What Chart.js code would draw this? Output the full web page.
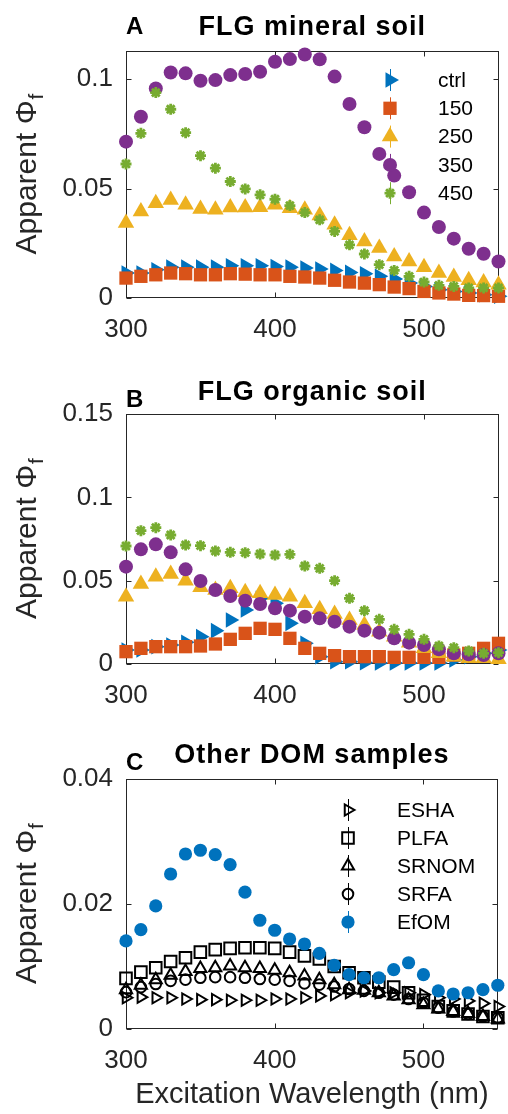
<!DOCTYPE html>
<html><head><meta charset="utf-8">
<script src="https://cdn.jsdelivr.net/npm/chart.js@4.4.1/dist/chart.umd.min.js"></script>
<style>
html,body{margin:0;padding:0;background:#fff;}
#wrap{position:relative;width:508px;height:1114px;overflow:hidden;background:#fff;}
canvas{position:absolute;left:0;}
</style></head><body>
<div id="wrap">
<canvas id="cA" width="508" height="350" style="top:0px;width:508px;height:350px"></canvas>
<canvas id="cB" width="508" height="370" style="top:350px;width:508px;height:370px"></canvas>
<canvas id="cC" width="508" height="394" style="top:720px;width:508px;height:394px"></canvas>
</div>
<script>
// ---------- data ----------
const wavelengths = [300,310,320,330,340,350,360,370,380,390,400,410,420,430,440,450,460,470,480,490,500,510,520,530,540,550];
const xTicks = [300,400,500];

// Panel A: FLG mineral soil
const labelsA = ['ctrl','150','250','350','450'];
const ctrlA = [0.0114,0.0114,0.0129,0.0141,0.0141,0.0141,0.0141,0.0147,0.0147,0.0147,0.0144,0.0141,0.0137,0.0132,0.0126,0.0117,0.0111,0.0099,0.0087,0.0068,0.0053,0.0038,0.0030,0.0023,0.0015,0.0008];
const s150A = [0.0091,0.0099,0.0106,0.0114,0.0111,0.0106,0.0106,0.0111,0.0109,0.0106,0.0106,0.0099,0.0096,0.0091,0.0081,0.0073,0.0068,0.0061,0.0050,0.0043,0.0030,0.0023,0.0018,0.0012,0.0011,0.0008];
const s250A = [0.0342,0.0395,0.0433,0.0448,0.0426,0.0407,0.0403,0.0413,0.0413,0.0415,0.0426,0.0410,0.0403,0.0377,0.0334,0.0286,0.0258,0.0228,0.0190,0.0167,0.0141,0.0114,0.0096,0.0081,0.0071,0.0061];
const s350A = [0.0714,0.0828,0.0957,0.1030,0.1026,0.0992,0.0995,0.1018,0.1023,0.1033,0.1079,0.1091,0.1112,0.1090,0.1011,0.0886,0.0780,0.0658,0.0559,0.0483,0.0390,0.0324,0.0271,0.0225,0.0202,0.0167];
const s450A = [0.0612,0.0752,0.0938,0.0862,0.0755,0.0650,0.0593,0.0532,0.0498,0.0471,0.0451,0.0422,0.0390,0.0357,0.0304,0.0243,0.0201,0.0152,0.0126,0.0099,0.0073,0.0058,0.0053,0.0046,0.0046,0.0046];
const yTicksA = [0,0.05,0.1];

// Panel B: FLG organic soil
const ctrlB = [0.0084,0.0084,0.0104,0.0114,0.0130,0.0164,0.0200,0.0264,0.0324,0.0394,0.0364,0.0244,0.0124,0.0044,0.0014,0.0014,0.0008,0.0006,0.0006,0.0006,0.0006,0.0006,0.0024,0.0044,0.0064,0.0084];
const s150B = [0.0074,0.0094,0.0104,0.0104,0.0104,0.0108,0.0120,0.0148,0.0184,0.0214,0.0208,0.0154,0.0094,0.0064,0.0050,0.0044,0.0044,0.0044,0.0040,0.0040,0.0040,0.0040,0.0054,0.0064,0.0094,0.0124];
const s250B = [0.0404,0.0480,0.0524,0.0540,0.0500,0.0460,0.0444,0.0454,0.0430,0.0424,0.0414,0.0404,0.0364,0.0328,0.0300,0.0264,0.0234,0.0194,0.0164,0.0128,0.0094,0.0064,0.0044,0.0034,0.0034,0.0028];
const s350B = [0.0584,0.0688,0.0718,0.0670,0.0568,0.0498,0.0444,0.0408,0.0380,0.0360,0.0334,0.0320,0.0284,0.0274,0.0254,0.0224,0.0200,0.0188,0.0154,0.0128,0.0114,0.0088,0.0064,0.0058,0.0054,0.0064];
const s450B = [0.0708,0.0800,0.0818,0.0774,0.0714,0.0710,0.0678,0.0670,0.0668,0.0660,0.0654,0.0658,0.0588,0.0574,0.0500,0.0394,0.0320,0.0268,0.0208,0.0178,0.0148,0.0108,0.0098,0.0078,0.0064,0.0068];
const yTicksB = [0,0.05,0.1,0.15];

// Panel C: Other DOM samples
const labelsC = ['ESHA','PLFA','SRNOM','SRFA','EfOM'];
const eshaC  = [0.0050,0.0051,0.0050,0.0050,0.0048,0.0047,0.0047,0.0046,0.0046,0.0046,0.0048,0.0048,0.0050,0.0053,0.0055,0.0058,0.0061,0.0058,0.0058,0.0058,0.0055,0.0050,0.0048,0.0045,0.0041,0.0036];
const plfaC  = [0.0081,0.0091,0.0098,0.0108,0.0114,0.0123,0.0127,0.0129,0.0130,0.0130,0.0129,0.0123,0.0117,0.0112,0.0100,0.0090,0.0082,0.0075,0.0067,0.0058,0.0046,0.0036,0.0029,0.0024,0.0020,0.0018];
const srnomC = [0.0063,0.0070,0.0079,0.0086,0.0092,0.0097,0.0098,0.0101,0.0098,0.0097,0.0094,0.0090,0.0085,0.0079,0.0071,0.0063,0.0062,0.0058,0.0053,0.0047,0.0039,0.0032,0.0028,0.0025,0.0020,0.0016];
const srfaC  = [0.0059,0.0067,0.0072,0.0077,0.0079,0.0082,0.0083,0.0083,0.0082,0.0080,0.0079,0.0077,0.0073,0.0071,0.0068,0.0064,0.0061,0.0058,0.0055,0.0048,0.0042,0.0034,0.0028,0.0024,0.0020,0.0018];
const efomC  = [0.0141,0.0159,0.0197,0.0248,0.0280,0.0286,0.0279,0.0263,0.0219,0.0174,0.0158,0.0144,0.0136,0.0121,0.0102,0.0087,0.0082,0.0082,0.0095,0.0106,0.0087,0.0061,0.0056,0.0058,0.0063,0.0070];
const yTicksC = [0,0.02,0.04];

// ---------- styles ----------
const FONT = '"Liberation Sans", Arial, Helvetica, sans-serif';
const AXIS = '#262626';
const BLUE='#0072BD', ORANGE='#D95319', YELLOW='#EDB120', PURPLE='#7E2F8E', GREEN='#77AC30';

const soilStyles = [
  {pointStyle:'triangle', rotation:90, radius:9, bg:BLUE, bc:BLUE, bw:0},
  {pointStyle:'rect', rotation:0, radius:9.4, bg:ORANGE, bc:ORANGE, bw:0},
  {pointStyle:'triangle', rotation:0, radius:9.5, bg:YELLOW, bc:YELLOW, bw:0},
  {pointStyle:'circle', rotation:0, radius:7, bg:PURPLE, bc:PURPLE, bw:0},
  {pointStyle:'star', rotation:0, radius:5.5, bg:GREEN, bc:GREEN, bw:2.8}
];
const domStyles = [
  {pointStyle:'triangle', rotation:90, radius:6.5, bg:'rgba(0,0,0,0)', bc:'#000', bw:2},
  {pointStyle:'rect', rotation:0, radius:8.2, bg:'rgba(0,0,0,0)', bc:'#000', bw:2},
  {pointStyle:'triangle', rotation:0, radius:7, bg:'rgba(0,0,0,0)', bc:'#000', bw:2},
  {pointStyle:'circle', rotation:0, radius:5.3, bg:'rgba(0,0,0,0)', bc:'#000', bw:2},
  {pointStyle:'circle', rotation:0, radius:6.6, bg:BLUE, bc:BLUE, bw:0}
];

function makeDatasets(labels, series, styles) {
  return series.map((vals, i) => ({
    label: labels[i],
    data: wavelengths.map((w, j) => ({x: w, y: vals[j]})),
    showLine: false,
    pointStyle: styles[i].pointStyle,
    pointRotation: styles[i].rotation,
    pointRadius: styles[i].radius,
    pointBackgroundColor: styles[i].bg,
    pointBorderColor: styles[i].bc,
    pointBorderWidth: styles[i].bw,
    order: series.length - i,
    clip: false
  }));
}

function drawMarker(ctx, st, x, y) {
  ctx.save();
  ctx.fillStyle = st.bg;
  ctx.strokeStyle = st.bc;
  ctx.lineWidth = st.bw;
  Chart.helpers.drawPoint(ctx, {pointStyle: st.pointStyle, rotation: st.rotation, radius: st.radius, borderWidth: st.bw}, x, y);
  ctx.restore();
}

function panelPlugin(p) {
  return {
    id: 'panel',
    beforeDatasetsDraw(chart) {
      const {ctx, chartArea: a, scales: {x, y}} = chart;
      ctx.save();
      ctx.strokeStyle = AXIS; ctx.lineWidth = 1;
      const L = Math.round(a.left) + 0.5, T = Math.round(a.top) + 0.5;
      const R = Math.round(a.right) - 0.5, B = Math.round(a.bottom) - 0.5;
      ctx.strokeRect(L, T, R - L, B - T);
      const tl = 5;
      ctx.beginPath();
      x.ticks.forEach(t => {
        const px = Math.round(x.getPixelForValue(t.value)) + 0.5;
        ctx.moveTo(px, B); ctx.lineTo(px, B - tl);
        ctx.moveTo(px, T); ctx.lineTo(px, T + tl);
      });
      y.ticks.forEach(t => {
        const py = Math.round(y.getPixelForValue(t.value)) + 0.5;
        ctx.moveTo(L, py); ctx.lineTo(L + tl, py);
        ctx.moveTo(R, py); ctx.lineTo(R - tl, py);
      });
      ctx.stroke();
      ctx.restore();
    },
    afterDraw(chart) {
      const {ctx, chartArea: a} = chart;
      ctx.save();
      // titles
      ctx.fillStyle = '#000';
      ctx.textBaseline = 'alphabetic';
      ctx.textAlign = 'left';
      ctx.font = 'bold 24px ' + FONT;
      ctx.fillText(p.letter, 126, p.letterBase);
      ctx.font = 'bold 27px ' + FONT;
      try { ctx.letterSpacing = '1px'; } catch (e) {}
      ctx.textAlign = 'center';
      ctx.fillText(p.title, (a.left + a.right) / 2, p.titleBase);
      try { ctx.letterSpacing = '0px'; } catch (e) {}
      // y title
      ctx.save();
      ctx.translate(36, (a.top + a.bottom) / 2);
      ctx.rotate(-Math.PI / 2);
      ctx.fillStyle = AXIS;
      ctx.textAlign = 'left';
      ctx.font = '30px ' + FONT;
      const main = 'Apparent \u03A6';
      const w1 = ctx.measureText(main).width;
      ctx.font = '21px ' + FONT;
      const w2 = ctx.measureText('f').width;
      const start = -(w1 + w2) / 2;
      ctx.font = '30px ' + FONT;
      ctx.fillText(main, start, 0);
      ctx.font = '21px ' + FONT;
      ctx.fillText('f', start + w1 + 1, 7);
      ctx.restore();
      // x title
      if (p.xTitle) {
        ctx.fillStyle = AXIS;
        ctx.textAlign = 'center';
        ctx.font = '29px ' + FONT;
        ctx.fillText(p.xTitle, (a.left + a.right) / 2, p.xTitleBase);
      }
      // legend
      if (p.legend) {
        const ds = chart.data.datasets;
        ds.forEach((d, i) => {
          const st = p.styles[i];
          const yy = p.legend.y0 + i * p.legend.dy;
          ctx.save();
          ctx.strokeStyle = st.bc; ctx.lineWidth = 1;
          ctx.beginPath();
          ctx.moveTo(p.legend.mx + 0.5, yy - 11); ctx.lineTo(p.legend.mx + 0.5, yy + 11);
          ctx.stroke();
          ctx.restore();
          drawMarker(ctx, st, p.legend.mx, yy);
          ctx.fillStyle = '#000';
          ctx.textAlign = 'left';
          ctx.textBaseline = 'middle';
          ctx.font = '21px ' + FONT;
          ctx.fillText(d.label, p.legend.tx, yy + 1);
        });
      }
      ctx.restore();
    }
  };
}

function makeChart(id, p) {
  const canvas = document.getElementById(id);
  const H = canvas.height;
  return new Chart(canvas, {
    type: 'scatter',
    data: {datasets: makeDatasets(p.labels, p.series, p.styles)},
    options: {
      responsive: false,
      animation: false,
      events: [],
      layout: {padding: {left: 0, right: 8, top: p.top, bottom: 0}},
      plugins: {legend: {display: false}, tooltip: {enabled: false}, title: {display: false}},
      scales: {
        x: {
          type: 'linear', min: 300, max: 550,
          grid: {display: false, drawTicks: false},
          border: {display: false},
          afterBuildTicks: s => { s.ticks = xTicks.map(v => ({value: v})); },
          afterFit: s => { s.height = H - p.bottom; },
          ticks: {color: AXIS, font: {family: FONT, size: 26}, padding: 16, maxRotation: 0,
                  callback: v => String(v)}
        },
        y: {
          type: 'linear', min: 0, max: p.ymax,
          grid: {display: false, drawTicks: false},
          border: {display: false},
          afterBuildTicks: s => { s.ticks = p.yTicks.map(v => ({value: v})); },
          afterFit: s => { s.width = 126; },
          ticks: {color: AXIS, font: {family: FONT, size: 26}, padding: 13,
                  callback: v => String(+v.toFixed(3))}
        }
      }
    },
    plugins: [panelPlugin(p)]
  });
}

makeChart('cA', {
  labels: labelsA, series: [ctrlA, s150A, s250A, s350A, s450A], styles: soilStyles,
  top: 51, bottom: 298, ymax: 0.1128, yTicks: yTicksA,
  letter: 'A', letterBase: 34, title: 'FLG mineral soil', titleBase: 35,
  legend: {mx: 390, tx: 438, y0: 80, dy: 28.3}
});
makeChart('cB', {
  labels: labelsA, series: [ctrlB, s150B, s250B, s350B, s450B], styles: soilStyles,
  top: 64, bottom: 314, ymax: 0.15, yTicks: yTicksB,
  letter: 'B', letterBase: 57, title: 'FLG organic soil', titleBase: 50
});
makeChart('cC', {
  labels: labelsC, series: [eshaC, plfaC, srnomC, srfaC, efomC], styles: domStyles,
  top: 59, bottom: 309, ymax: 0.04, yTicks: yTicksC,
  letter: 'C', letterBase: 50, title: 'Other DOM samples', titleBase: 43,
  xTitle: 'Excitation Wavelength (nm)', xTitleBase: 383,
  legend: {mx: 348, tx: 397, y0: 90, dy: 28}
});
</script>
</body></html>
